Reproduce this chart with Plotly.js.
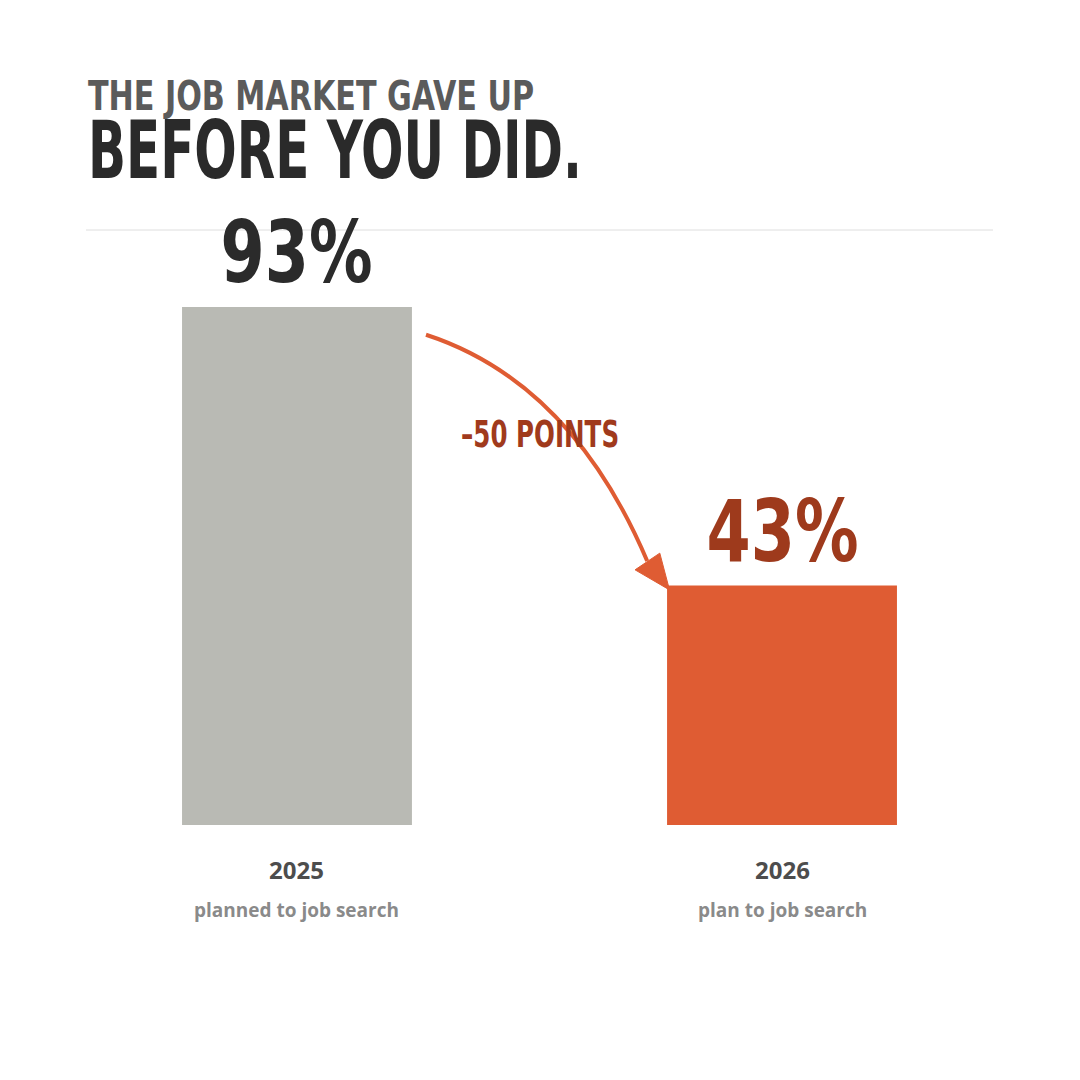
<!DOCTYPE html>
<html><head><meta charset="utf-8">
<script src="https://cdn.plot.ly/plotly-3.0.1.min.js"></script>
<style>html,body{margin:0;padding:0;background:#fff}</style>
</head><body><div id="chart" style="width:1080px;height:1080px"></div>
<script>
// ---- data ----
const years = ['2025', '2026'];
const descriptions = ['planned to job search', 'plan to job search'];
const values = [93, 43];
const valueLabels = ['93%', '43%'];
const barColors = ['#b9bab4', '#df5c33'];
const labelColors = ['#2b2b2b', '#9e3a1c'];
const changeLabel = '–50 POINTS';
const headline1 = 'THE JOB MARKET GAVE UP';
const headline2 = 'BEFORE YOU DID.';

// ---- style ----
const COND = 'Liberation Sans Narrow, DejaVu Sans Condensed, Arial Narrow, sans-serif';
const OPEN = 'Open Sans, sans-serif';
const BARW = 0.474;
const xs = years.map((_, i) => i);
const accent = '#df5c33';

const bar = {
  type: 'bar', x: xs, y: values, width: BARW,
  marker: {color: barColors, line: {width: 0}},
  hoverinfo: 'skip', textposition: 'none'
};

const ann = [];
ann.push({xref: 'paper', yref: 'paper', x: 0.0, y: 1.1613, xanchor: 'left', yanchor: 'middle', align: 'left',
  text: '<span style="font-size:41px;color:#5b5b5b">' + headline1 + '</span><br>' +
        '<span style="font-size:81px;color:#2a2a2a">' + headline2 + '</span>',
  showarrow: false, font: {family: COND, size: 52, color: '#2a2a2a', weight: 700}});
years.forEach((yr, i) => {
  ann.push({x: xs[i], y: values[i], yshift: 54, xanchor: 'center', yanchor: 'middle',
    text: valueLabels[i], showarrow: false, font: {family: COND, size: 85, color: labelColors[i], weight: 700}});
  ann.push({x: xs[i], yref: 'paper', y: -0.0756, xanchor: 'center', yanchor: 'middle',
    text: '<b>' + yr + '</b>', showarrow: false, font: {family: OPEN, size: 24, color: '#4d4d4d'}});
  ann.push({x: xs[i], yref: 'paper', y: -0.1429, xanchor: 'center', yanchor: 'middle',
    text: descriptions[i], showarrow: false, font: {family: OPEN, size: 19, color: '#8a8a8a', weight: 700}});
});
ann.push({x: (xs[0] + xs[1]) / 2, y: (values[0] + values[1]) / 2, yshift: 12, xanchor: 'center', yanchor: 'middle',
  text: changeLabel, showarrow: false, font: {family: COND, size: 37, color: '#a03a1c', weight: 700}});

// curved arrow anchored to the bars
const x0 = xs[0] + BARW / 2 + 0.029, y0 = values[0] - 5.0;
const cx = 0.565, cy = values[1] + 36.5;
const ex = 0.722, ey = values[1] + 4.4;
const tx = xs[1] - BARW / 2 + 0.005, ty = values[1] - 0.8;
const h1x = 0.697, h1y = values[1] + 2.8;
const h2x = 0.748, h2y = values[1] + 5.8;

const shapes = [
  {type: 'line', xref: 'paper', yref: 'paper', x0: 0, x1: 1, y0: 1, y1: 1, line: {color: '#dedede', width: 1}},
  {type: 'path', path: `M ${x0} ${y0} Q ${cx} ${cy} ${ex} ${ey}`, line: {color: accent, width: 4}},
  {type: 'path', path: `M ${h1x} ${h1y} L ${tx} ${ty} L ${h2x} ${h2y} Z`, fillcolor: accent, line: {color: accent, width: 1}}
];

const layout = {
  width: 1080, height: 1080,
  margin: {l: 86, r: 87, t: 230, b: 255},
  paper_bgcolor: '#ffffff', plot_bgcolor: '#ffffff',
  showlegend: false,
  xaxis: {range: [-0.435, 1.435], showgrid: false, zeroline: false, showline: false, showticklabels: false, ticks: '', fixedrange: true},
  yaxis: {range: [0, 106.8], showgrid: false, zeroline: false, showline: false, showticklabels: false, ticks: '', fixedrange: true},
  annotations: ann,
  shapes: shapes
};

Plotly.newPlot('chart', [bar], layout, {displayModeBar: false, staticPlot: true}).then(gd => {
  const targets = {};
  targets[headline1] = 446; targets[headline2] = 494;
  targets[valueLabels[0]] = 152; targets[valueLabels[1]] = 152;
  targets[changeLabel] = 158;
  gd.querySelectorAll('text.annotation-text, text.annotation-text tspan').forEach(t => {
    if (t.querySelector && t.querySelector('tspan')) return;
    const w = targets[t.textContent];
    if (w) { t.setAttribute('textLength', w); t.setAttribute('lengthAdjust', 'spacingAndGlyphs'); }
  });
});
</script></body></html>
